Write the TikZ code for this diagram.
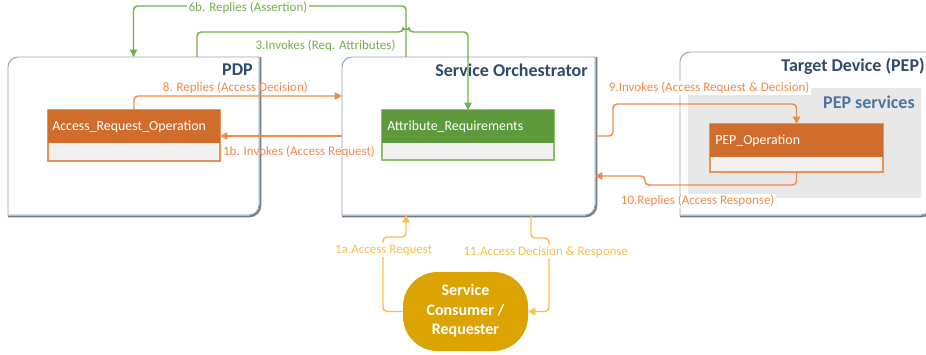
\documentclass[tikz,border=0pt]{standalone}
\usepackage{fontspec}
\setmainfont{Carlito}
\usetikzlibrary{arrows.meta,fit}
\definecolor{frame}{HTML}{8FA2B6}
\definecolor{shadowc}{HTML}{6F7B87}
\definecolor{titlec}{HTML}{2F4B6C}
\definecolor{pepc}{HTML}{4E74A0}
\definecolor{grn}{HTML}{72AF4E}
\definecolor{grnbox}{HTML}{5E9A3C}
\definecolor{grnedge}{HTML}{8CC06C}
\definecolor{org}{HTML}{F08A4E}
\definecolor{orgbox}{HTML}{D06C2C}
\definecolor{orgedge}{HTML}{E9925A}
\definecolor{yel}{HTML}{F9C04A}
\definecolor{gold}{HTML}{DBA400}
\definecolor{bodyc}{HTML}{F1F1F1}
\definecolor{pepbg}{HTML}{E8E8E8}
\newcommand\diagframe[1]{%
  \draw[shadowc, line width=1.4pt] ([xshift=1.1pt]#1.north east) -- ([xshift=1.1pt,yshift=7.5pt]#1.south east)
    arc[start angle=0,end angle=-90,radius=8.6pt] -- ([yshift=-1.1pt]#1.south west);
  \draw[frame, line width=0.7pt] (#1.south west) -- ([yshift=-7.5pt]#1.north west)
    arc[start angle=180,end angle=90,radius=7.5pt] -- (#1.north east) -- ([yshift=7.5pt]#1.south east)
    arc[start angle=0,end angle=-90,radius=7.5pt] -- cycle;}
\begin{document}
\begin{tikzpicture}[x=0.75pt,y=0.75pt,
  region/.style={inner sep=0pt, outer sep=0pt},
  title/.style={font=\bfseries\fontsize{13.5}{15}\selectfont, text=titlec, inner sep=0pt},
  hdrtext/.style={font=\fontsize{10.4}{12}\selectfont, text=white, anchor=west, inner sep=0pt},
  lbl/.style={font=\fontsize{9.75}{11}\selectfont, inner sep=1pt},
  wlbl/.style={lbl, fill=white},
  conn/.style={line width=1.1pt, rounded corners=3pt, -{Triangle[length=5.5pt,width=5.5pt]}},
]
\useasboundingbox (0,0) rectangle (926,354);
\fill[white] (0,0) rectangle (926,354);

% containers
\node[region, fit={(8,139) (259,297)}] (pdp) {};
\node[region, fit={(342,139) (595,297)}] (so) {};
\node[region, fit={(680,139) (931,302)}] (tgt) {};
\diagframe{pdp}
\diagframe{so}
\diagframe{tgt}
\node[title, anchor=east] (pdpt) at (253,284) {PDP};
\node[title, anchor=east] (sot) at (588,284) {Service Orchestrator};
\node[title, anchor=east] (tgtt) at (925,288) {Target Device (PEP)};

\node[region, fit={(688,156) (921,266)}, fill=pepbg] (peps) {};
\node[title, text=pepc, anchor=east] (pepst) at (915,252) {PEP services};

% class boxes
\node[region, fit={(48,193) (220,244)}, fill=bodyc, draw=orgedge, line width=0.8pt] (aro) {};
\node[region, fit={(48,211) (220,244)}, fill=orgbox] (aroh) {};
\node[hdrtext] (arot) at (52,227.5) {Access\_Request\_Operation};

\node[region, fit={(382,194) (554,244)}, fill=bodyc, draw=grnedge, line width=0.8pt] (ar) {};
\node[region, fit={(382,211) (554,244)}, fill=grnbox] (arh) {};
\node[hdrtext] (art) at (387,227.5) {Attribute\_Requirements};

\node[region, fit={(710,182) (883,230)}, fill=bodyc, draw=orgedge, line width=0.8pt] (pep) {};
\node[region, fit={(710,197) (883,230)}, fill=orgbox] (peph) {};
\node[hdrtext] (pept) at (715,213.5) {PEP\_Operation};

% consumer
\node[region, fit={(403,3) (528,82)}, fill=gold, rounded corners=26pt] (cons) {};
\node[font=\bfseries\fontsize{12}{14.6}\selectfont, text=white, align=center, inner sep=0pt] (const) at (465.5,43) {Service\\Consumer /\\Requester};

% connectors
\draw[conn, grn] ([xshift=48pt]so.north west) |- ([yshift=38.25pt]pdp.north) -- (pdp.north);
\draw[conn, grn] ([xshift=141.75pt]pdp.north west) -- (197,322) -- (403,322)
  arc[start angle=180,end angle=0,radius=3] -- (468,322) -- (ar.north);
\draw[conn, org] (aro.north) |- ([yshift=30pt]so.west);
\draw[conn, org] (so.west) -- (so.west -| aro.east);
\draw[conn, org] (so.east) -- ++(13.5pt,0) |- ([yshift=15pt]pep.north) -- (pep.north);
\draw[conn, org] (pep.south) -- ++(0,-9.75pt) -| (645,178) -- ([yshift=-30pt]so.east);
\draw[conn, yel] (cons.west) -| (383,117) -- (406,117) -- ([xshift=48pt]so.south west);
\draw[conn, yel] ([xshift=141.75pt]so.south west) -- (531,116) -- (549,116) |- (cons.east);

% labels
\node[wlbl, text=grn] (l6b) at (248,346) {6b. Replies (Assertion)};
\node[lbl, text=grn] (l3) at (325.5,308.3) {3.Invokes (Req. Attributes)};
\node[lbl, text=org] (l8) at (235.3,266) {8. Replies (Access Decision)};
\node[lbl, text=org] (l1b) at (299,202.3) {1b. Invokes (Access Request)};
\node[wlbl, text=org] (l9) at (709.2,266) {9.Invokes (Access Request \& Decision)};
\node[wlbl, text=org] (l10) at (697.7,153) {10.Replies (Access Response)};
\node[wlbl, text=yel] (l1a) at (383.7,104) {1a.Access Request};
\node[wlbl, text=yel] (l11) at (545.8,101.7) {11.Access Decision \& Response};
\end{tikzpicture}
\end{document}
